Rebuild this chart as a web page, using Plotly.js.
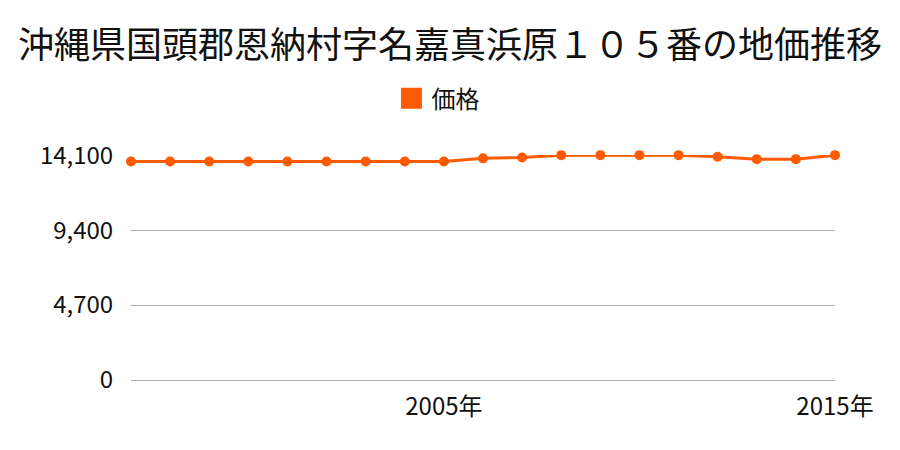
<!DOCTYPE html>
<html>
<head>
<meta charset="utf-8">
<script src="https://cdn.plot.ly/plotly-3.0.1.min.js"></script>
<style>
  html, body { margin: 0; padding: 0; background: #fff; }
  #chart { width: 900px; height: 450px; }
</style>
</head>
<body>
<div id="chart"></div>
<script>
// 年ごとの価格（円/m²）
const years = [1997, 1998, 1999, 2000, 2001, 2002, 2003, 2004, 2005, 2006,
               2007, 2008, 2009, 2010, 2011, 2012, 2013, 2014, 2015];
const prices = [13700, 13700, 13700, 13700, 13700, 13700, 13700, 13700, 13700, 13900,
                13950, 14100, 14100, 14100, 14100, 14000, 13850, 13850, 14100];
const yTicks = [0, 4700, 9400, 14100];
const xTicks = [2005, 2015];
const xTickLabels = ['2005年', '2015年'];

const orange = '#ff5a00';
const font = '"Noto Sans CJK JP", "Noto Sans", sans-serif';

const line = {
  x: years,
  y: prices,
  type: 'scatter',
  mode: 'lines+markers',
  line: { color: orange, width: 3 },
  marker: { color: orange, size: 10 },
  cliponaxis: false,
  showlegend: false,
  hoverinfo: 'x+y'
};

// 凡例用の四角マーカー
const legendItem = {
  x: [null],
  y: [null],
  type: 'scatter',
  mode: 'markers',
  name: '価格',
  marker: { color: orange, size: 16, symbol: 'square', line: { color: orange, width: 5 } },
  showlegend: true
};

const layout = {
  width: 900,
  height: 450,
  margin: { l: 131, r: 65, t: 155, b: 70 },
  paper_bgcolor: '#fff',
  plot_bgcolor: '#fff',
  font: { family: font, color: '#111', size: 24 },
  title: {
    text: '沖縄県国頭郡恩納村字名嘉真浜原１０５番の地価推移',
    font: { family: font, size: 36, color: '#111' },
    x: 0.5, xanchor: 'center',
    y: 0.9, yref: 'container', yanchor: 'middle'
  },
  showlegend: true,
  legend: {
    orientation: 'h',
    x: 0.436, xanchor: 'center',
    y: 1.25, yanchor: 'middle',
    font: { size: 24 },
    itemsizing: 'trace'
  },
  xaxis: {
    range: [1997, 2015],
    tickvals: xTicks,
    ticktext: xTickLabels,
    showgrid: false,
    zeroline: false,
    showline: false,
    ticks: 'outside',
    ticklen: 5,
    tickcolor: 'rgba(0,0,0,0)',
    tickfont: { size: 24 }
  },
  yaxis: {
    range: [0, 14110],
    tickvals: yTicks,
    tickformat: ',d',
    showgrid: true,
    gridcolor: '#aaaaaa',
    gridwidth: 1,
    zeroline: true,
    zerolinecolor: '#aaaaaa',
    zerolinewidth: 1,
    showline: false,
    ticks: 'outside',
    ticklen: 12,
    tickcolor: 'rgba(0,0,0,0)',
    tickfont: { size: 24 }
  }
};

Plotly.newPlot('chart', [line, legendItem], layout, { displayModeBar: false, staticPlot: true });
</script>
</body>
</html>
